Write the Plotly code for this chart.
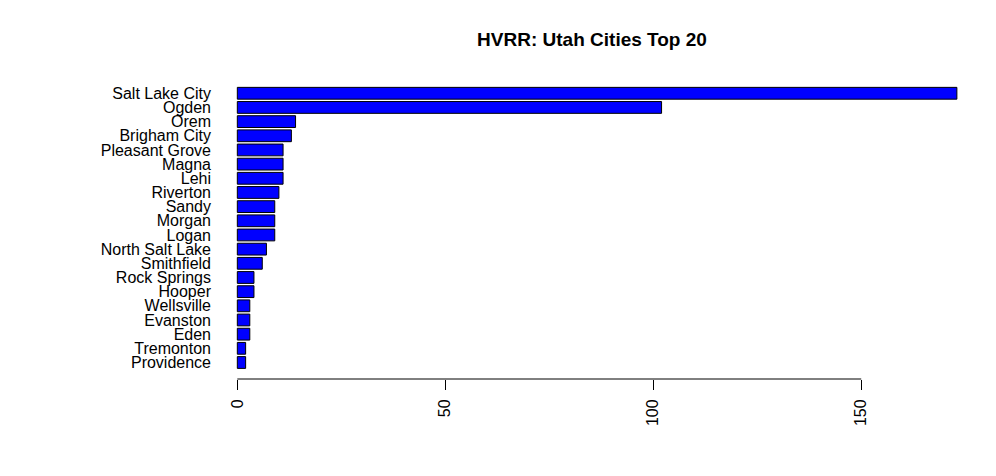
import plotly.graph_objects as go

cities = ["Salt Lake City", "Ogden", "Orem", "Brigham City", "Pleasant Grove",
          "Magna", "Lehi", "Riverton", "Sandy", "Morgan", "Logan",
          "North Salt Lake", "Smithfield", "Rock Springs", "Hooper",
          "Wellsville", "Evanston", "Eden", "Tremonton", "Providence"]
counts = [173, 102, 14, 13, 11, 11, 11, 10, 9, 9, 9, 7, 6, 4, 4, 3, 3, 3, 2, 2]
x_ticks = [0, 50, 100, 150]
title_text = "HVRR: Utah Cities Top 20"

W, H = 996, 476
off = 8  # page body margin
px_per_unit = 4.16
x0_px = 237.0 - off
xr = [-2, 180]
left = x0_px - (0 - xr[0]) * px_per_unit
plot_w = (xr[1] - xr[0]) * px_per_unit
right = W - left - plot_w

bottom_px = 379.0 - off
top_m = 32
spacing = 14.17
y_lo = -(bottom_px - (362.5 - off)) / spacing
y_hi = y_lo + (bottom_px - top_m) / spacing

font = "Liberation Sans, Arial, sans-serif"

fig = go.Figure(go.Bar(
    x=counts[::-1], y=cities[::-1], orientation="h",
    marker=dict(color="#0000FF", line=dict(color="black", width=1)),
    width=0.833, hoverinfo="x+y",
))

fig.add_shape(type="line", xref="x", yref="paper", x0=x_ticks[0], x1=x_ticks[-1],
              y0=0, y1=0, line=dict(color="black", width=1))

fig.update_layout(
    width=W, height=H,
    margin=dict(l=left, r=right, t=top_m, b=H - bottom_px, pad=0),
    paper_bgcolor="white", plot_bgcolor="white",
    showlegend=False,
    font=dict(family=font, size=16, color="black"),
    title=dict(text="<b>" + title_text + "</b>", x=(592 - off) / W, xanchor="center",
               xref="container", yref="container", y=1 - (39 - off) / H, yanchor="middle",
               font=dict(family=font, size=19, color="black")),
    xaxis=dict(range=xr, tickmode="array", tickvals=x_ticks,
               ticktext=[str(v) for v in x_ticks],
               ticks="outside", ticklen=10, tickwidth=1, tickcolor="black",
               tickangle=-90, showgrid=False, zeroline=False, showline=False,
               ticklabelstandoff=3, tickfont=dict(size=16, family=font, color="black")),
    yaxis=dict(type="category", categoryorder="array", categoryarray=cities[::-1],
               tickmode="array", tickvals=cities[::-1], ticktext=cities[::-1],
               range=[y_lo, y_hi], showgrid=False, zeroline=False, showline=False,
               ticks="", ticklabelstandoff=17,
               tickfont=dict(size=16, family=font, color="black")),
)

fig.write_html("out.html")
